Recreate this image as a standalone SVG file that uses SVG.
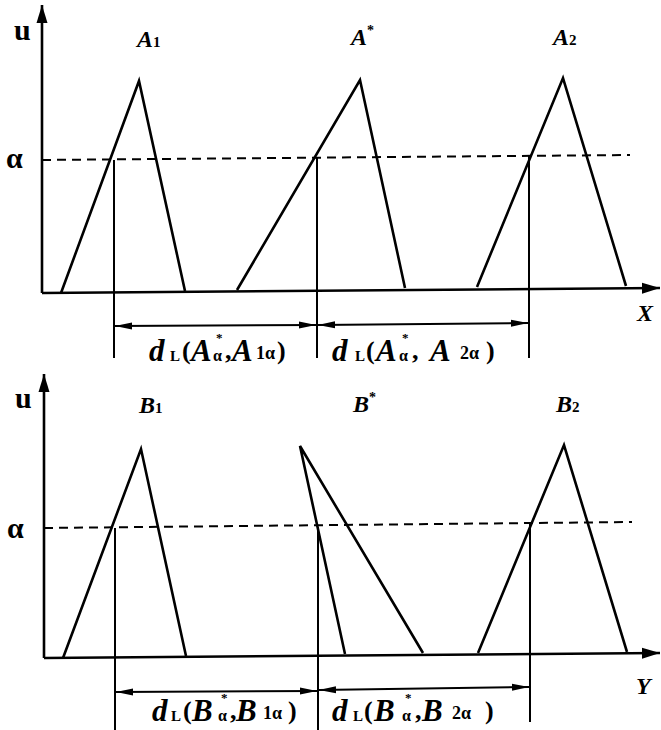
<svg xmlns="http://www.w3.org/2000/svg" width="661" height="730" viewBox="0 0 661 730">
<style>
.ln{stroke:#000;stroke-width:2.6;fill:none;stroke-linejoin:miter}
.ax{stroke:#000;stroke-width:2.6;fill:none}
.vt{stroke:#000;stroke-width:2;fill:none}
.da{stroke:#000;stroke-width:2;fill:none;stroke-dasharray:9 6}
.dm{stroke:#000;stroke-width:2;fill:none}
.t{font-family:"Liberation Serif",serif;font-weight:bold;fill:#000}
.i{font-style:italic}
.big{font-size:31px}
.par{font-size:26px}
.sub{font-size:15px}
.sb2{font-size:18px}
.st{font-size:13px}
.al{font-size:16px}
.lab{font-size:24px}
.ax-lab{font-size:30px}
</style>
<defs>
<marker id="ah" markerUnits="userSpaceOnUse" markerWidth="18" markerHeight="10" refX="17" refY="5" orient="auto-start-reverse">
<path d="M0,1.5 L17,5 L0,8.5 z" fill="#000"/>
</marker>
<marker id="axh" markerUnits="userSpaceOnUse" markerWidth="20" markerHeight="12" refX="18" refY="6" orient="auto">
<path d="M0,0.5 L18,6 L0,11.5 z" fill="#000"/>
</marker>
</defs>

<!-- top panel -->
<g id="top-axes">
<line class="ax" x1="42" y1="293" x2="42" y2="5" marker-end="url(#axh)"/>
<line class="ax" x1="42" y1="293" x2="660" y2="288" marker-end="url(#axh)"/>
<line class="da" x1="42" y1="160" x2="630" y2="155"/>
<text class="t ax-lab" x="14" y="40">u</text>
<text class="t ax-lab" x="6" y="168">α</text>
<text class="t i lab" x="637" y="321">X</text>
</g>
<g id="A1">
<polyline class="ln" points="61,293 139,81 185,291"/>
<text class="t i lab" x="137" y="47">A<tspan class="sub" font-style="normal">1</tspan></text>
</g>
<g id="Astar">
<polyline class="ln" points="237,290 360,80 405,288"/>
<text class="t i lab" x="351" y="45">A<tspan font-size="14" font-style="normal" dy="-10">*</tspan></text>
</g>
<g id="A2">
<polyline class="ln" points="477,287 563,78 626,286"/>
<text class="t i lab" x="553" y="45">A<tspan class="sub" font-style="normal">2</tspan></text>
</g>
<g id="top-connectors">
<line class="vt" x1="114" y1="160" x2="114" y2="358"/>
<line class="vt" x1="317" y1="157" x2="317" y2="358"/>
<line class="vt" x1="529" y1="156" x2="529" y2="358"/>
<line class="dm" x1="115" y1="326" x2="316" y2="325" marker-start="url(#ah)" marker-end="url(#ah)"/>
<line class="dm" x1="318" y1="325" x2="528" y2="323" marker-start="url(#ah)" marker-end="url(#ah)"/>
</g>
<g id="top-labels">
<text class="t i big" x="149" y="361">d</text>
<text class="t sub" x="170" y="361">L</text>
<text class="t par" x="182" y="359">(</text>
<text class="t i big" x="191" y="361">A</text>
<text class="t st" x="216" y="342">*</text>
<text class="t al" x="213" y="361">α</text>
<text class="t par" x="225" y="359">,</text>
<text class="t i big" x="232" y="361">A</text>
<text class="t sb2" x="256" y="359">1α</text>
<text class="t par" x="277" y="359">)</text>

<text class="t i big" x="332" y="361">d</text>
<text class="t sub" x="355" y="361">L</text>
<text class="t par" x="366" y="359">(</text>
<text class="t i big" x="376" y="361">A</text>
<text class="t st" x="402" y="342">*</text>
<text class="t al" x="399" y="361">α</text>
<text class="t par" x="412" y="359">,</text>
<text class="t i big" x="430" y="361">A</text>
<text class="t sb2" x="460" y="359">2α</text>
<text class="t par" x="486" y="359">)</text>
</g>

<!-- bottom panel -->
<g id="bottom-axes">
<line class="ax" x1="44" y1="658" x2="44" y2="374" marker-end="url(#axh)"/>
<line class="ax" x1="44" y1="658" x2="660" y2="653" marker-end="url(#axh)"/>
<line class="da" x1="44" y1="528" x2="632" y2="522"/>
<text class="t ax-lab" x="15" y="408">u</text>
<text class="t ax-lab" x="7" y="538">α</text>
<text class="t i lab" x="636" y="694">Y</text>
</g>
<g id="B1">
<polyline class="ln" points="63,658 141,449 186,656"/>
<text class="t i lab" x="139" y="413">B<tspan class="sub" font-style="normal">1</tspan></text>
</g>
<g id="Bstar">
<polyline class="ln" points="345,654 300,446 423,653"/>
<text class="t i lab" x="353" y="412">B<tspan font-size="14" font-style="normal" dy="-10">*</tspan></text>
</g>
<g id="B2">
<polyline class="ln" points="478,653 564,445 627,652"/>
<text class="t i lab" x="556" y="412">B<tspan class="sub" font-style="normal">2</tspan></text>
</g>
<g id="bottom-connectors">
<line class="vt" x1="115" y1="528" x2="115" y2="730"/>
<line class="vt" x1="318" y1="527" x2="318" y2="730"/>
<line class="vt" x1="530" y1="523" x2="530" y2="722"/>
<line class="dm" x1="116" y1="692" x2="317" y2="691" marker-start="url(#ah)" marker-end="url(#ah)"/>
<line class="dm" x1="319" y1="690" x2="529" y2="687" marker-start="url(#ah)" marker-end="url(#ah)"/>
</g>
<g id="bottom-labels">
<text class="t i big" x="152" y="721">d</text>
<text class="t sub" x="171" y="721">L</text>
<text class="t par" x="183" y="719">(</text>
<text class="t i big" x="192" y="721">B</text>
<text class="t st" x="221" y="702">*</text>
<text class="t al" x="218" y="721">α</text>
<text class="t par" x="230" y="719">,</text>
<text class="t i big" x="236" y="721">B</text>
<text class="t sb2" x="263" y="719">1α</text>
<text class="t par" x="288" y="719">)</text>

<text class="t i big" x="332" y="721">d</text>
<text class="t sub" x="353" y="721">L</text>
<text class="t par" x="364" y="719">(</text>
<text class="t i big" x="374" y="721">B</text>
<text class="t st" x="405" y="702">*</text>
<text class="t al" x="402" y="721">α</text>
<text class="t par" x="415" y="719">,</text>
<text class="t i big" x="422" y="721">B</text>
<text class="t sb2" x="452" y="719">2α</text>
<text class="t par" x="485" y="719">)</text>
</g>
</svg>
